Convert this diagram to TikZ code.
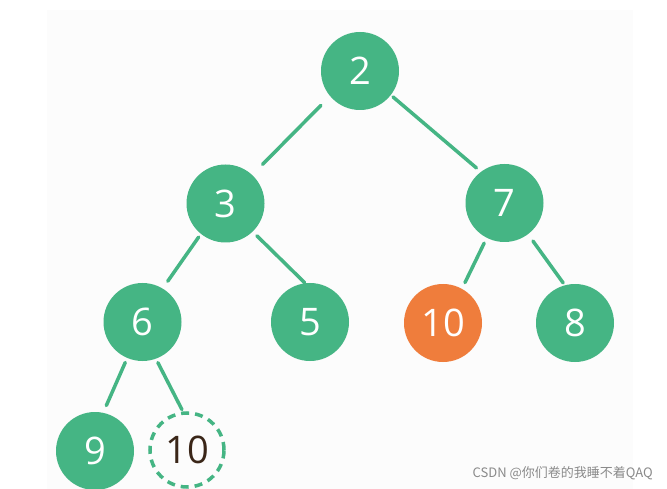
\documentclass[tikz,border=0pt]{standalone}
\usepackage{fontspec}
\setmainfont{Open Sans}
\newfontfamily\cjk{Noto Sans CJK SC}
\definecolor{tgreen}{HTML}{45B584}
\definecolor{torange}{HTML}{EF7D3C}
\definecolor{tbrown}{HTML}{3A2618}
\definecolor{wmgray}{HTML}{8A8A8A}
\begin{document}
\begin{tikzpicture}[x=1pt,y=-1pt,
  nd/.style={circle,fill=tgreen,minimum size=78pt,inner sep=0pt,outer sep=0pt,text=white,font=\fontsize{38}{38}\selectfont},
  hot/.style={nd,fill=torange},
  ghost/.style={circle,draw=tgreen,line width=3.5pt,dash pattern=on 8pt off 6pt,minimum size=74pt,inner sep=0pt,outer sep=0pt,text=tbrown,font=\fontsize{38}{38}\selectfont},
  edge/.style={draw=tgreen,line width=3.5pt,line cap=round}]
\useasboundingbox (0,0) rectangle (667,489);
\fill[white] (0,0) rectangle (667,489);
\fill[black!1.2] (47,10) rectangle (633,489);
\node[nd] (n2) at (360,71) {2};
\node[nd] (n3) at (225.5,203.5) {3};
\node[nd] (n7) at (504.5,203) {7};
\node[nd] (n6) at (142.5,322) {6};
\node[nd] (n5) at (310,322) {5};
\node[hot] (n10) at (443,323) {10};
\node[nd] (n8) at (575,323) {8};
\node[nd] (n9) at (95,451) {9};
\node[ghost] (nx) at (187,450) {10};
\draw[edge,shorten <=13pt,shorten >=15pt] (n2.-140.5) -- (n3.47);
\draw[edge,shorten <=3pt,shorten >=6pt] (n2.-38) -- (n7.127);
\draw[edge,shorten <=4pt,shorten >=9pt] (n3.-129.4) -- (n6.59);
\draw[edge,shorten <=6pt,shorten >=1pt] (n3.-46) -- (n5.97);
\draw[edge,shorten <=6pt,shorten >=7pt] (n7.-117) -- (n10.61);
\draw[edge,shorten <=8.5pt,shorten >=3pt] (n7.-53) -- (n8.105);
\draw[edge,shorten <=5pt,shorten >=8pt] (n6.-113.6) -- (n9.78);
\draw[edge,shorten <=4.5pt,shorten >=4pt] (n6.-70.5) -- (nx.95);
\node[anchor=east,text=wmgray,font=\cjk\fontsize{13}{13}\selectfont,inner sep=0pt] (wm) at (653,473) {CSDN @你们卷的我睡不着QAQ};
\end{tikzpicture}
\end{document}
